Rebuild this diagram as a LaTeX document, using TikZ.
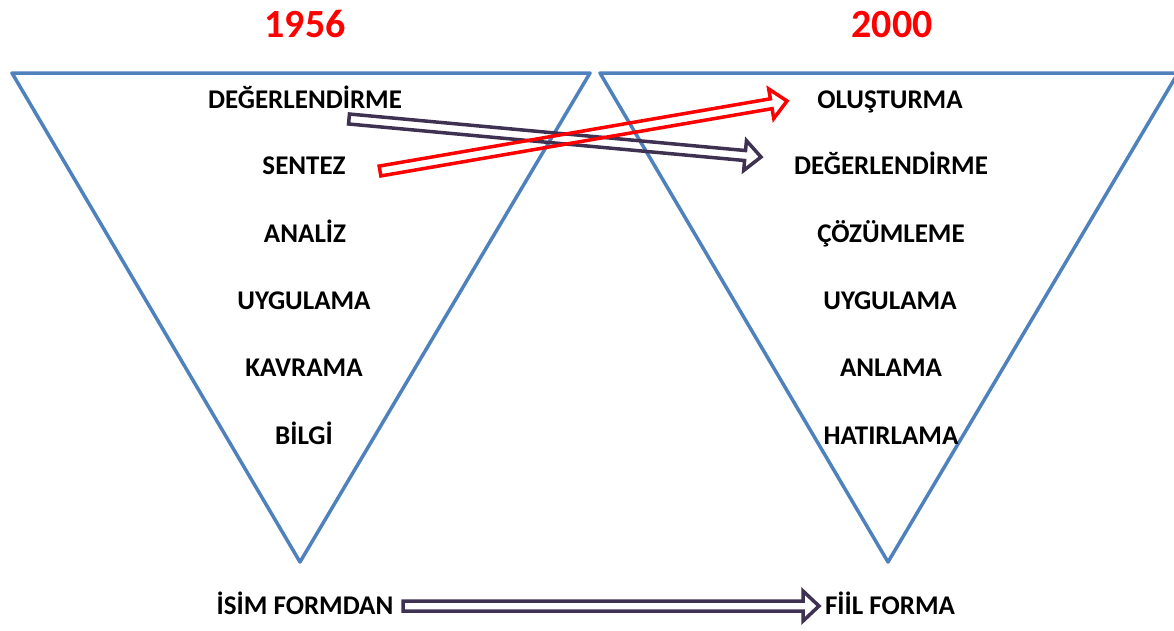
\documentclass[tikz,border=0pt]{standalone}
\usepackage{fontspec}
\setmainfont{Carlito}
\usetikzlibrary{calc}
\definecolor{triblue}{RGB}{79,129,189}
\definecolor{darkpurple}{RGB}{63,49,81}
\definecolor{yearred}{RGB}{255,0,0}
\tikzset{
  tri/.style={draw=triblue, line width=3.5pt, line join=round},
  lbl/.style={font=\bfseries\fontsize{27}{30}\selectfont, anchor=base, inner sep=0pt, text=black},
  year/.style={font=\bfseries\fontsize{40}{44}\selectfont, anchor=base, inner sep=0pt, text=yearred},
  darkarr/.style={draw=darkpurple, line width=3.5pt, line join=miter},
  redarr/.style={draw=yearred, line width=3.5pt, line join=miter},
}
\newcommand\hollowarrow[3]{%
  \coordinate (#2-#3-c) at ($(#3)!16pt!(#2)$);
  \draw[#1] ($(#2)!5pt!90:(#3)$) -- ($(#2-#3-c)!5pt!-90:(#2)$) -- ($(#2-#3-c)!15pt!-90:(#2)$) -- (#3)
    -- ($(#2-#3-c)!15pt!90:(#2)$) -- ($(#2-#3-c)!5pt!90:(#2)$) -- ($(#2)!5pt!-90:(#3)$) -- cycle;
}
\begin{document}
\begin{tikzpicture}[x=1pt,y=-1pt]
\useasboundingbox (0,0) rectangle (1174,630);
% triangles
\draw[tri] (12,73) -- (590,73) -- (300,562) -- cycle;
\draw[tri] (600,73) -- (1178,73) -- (888,562) -- cycle;
% years
\node[year] (y1) at (305,37) {1956};
\node[year] (y2) at (892,37) {2000};
% left labels
\node[lbl] (l1) at (305,108.5) {DEĞERLENDİRME};
\node[lbl] (l2) at (304,174.5) {SENTEZ};
\node[lbl] (l3) at (305,242.5) {ANALİZ};
\node[lbl] (l4) at (304,309.5) {UYGULAMA};
\node[lbl] (l5) at (304,376.5) {KAVRAMA};
\node[lbl] (l6) at (304,444.5) {BİLGİ};
% right labels
\node[lbl] (r1) at (890,108.5) {OLUŞTURMA};
\node[lbl] (r2) at (891,174.5) {DEĞERLENDİRME};
\node[lbl] (r3) at (891,242.5) {ÇÖZÜMLEME};
\node[lbl] (r4) at (890,309.5) {UYGULAMA};
\node[lbl] (r5) at (891,376.5) {ANLAMA};
\node[lbl] (r6) at (891,444.5) {HATIRLAMA};
% bottom labels
\node[lbl] (b1) at (305,614.5) {İSİM FORMDAN};
\node[lbl] (b2) at (890,614.5) {FİİL FORMA};
% arrow ends
\coordinate (da) at (349,119);
\coordinate (db) at (761,157);
\coordinate (ra) at (380,171);
\coordinate (rb) at (787,101);
\coordinate (ba) at (403,606);
\coordinate (bb) at (819,606);
\hollowarrow{darkarr}{da}{db}
\hollowarrow{redarr}{ra}{rb}
\hollowarrow{darkarr}{ba}{bb}
\end{tikzpicture}
\end{document}
